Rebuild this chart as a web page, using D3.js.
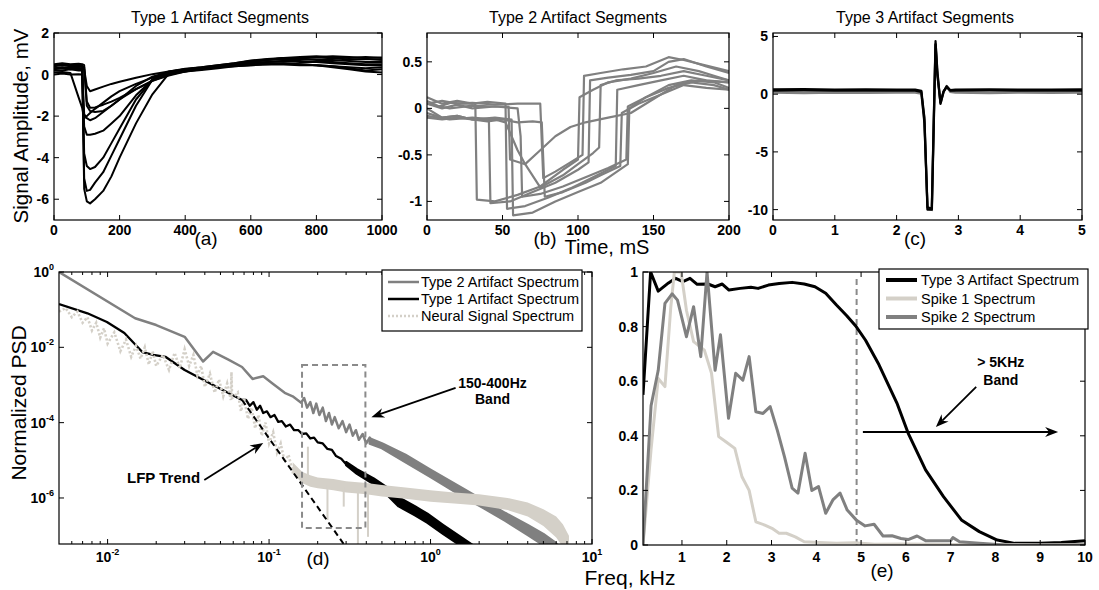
<!DOCTYPE html>
<html>
<head>
<meta charset="utf-8">
<title>Artifact segments and spectra</title>
<script src="https://cdn.jsdelivr.net/npm/d3@7/dist/d3.min.js"></script>
<style>
  html, body { margin: 0; padding: 0; background: #fff; }
  svg { display: block; }
  text { font-family: "Liberation Sans", Arial, Helvetica, sans-serif; fill: #000; }
</style>
</head>
<body>
<svg id="fig" width="1099" height="590"></svg>
<script>
// ---------------- (a) Type 1 artifact segments (ms, mV) ----------------
const type1Times = [0,25,50,75,86,92,100,110,125,150,175,200,250,300,350,400,450,500,550,600,650,700,750,800,850,900,950,1000];
const type1Seg1 = [0.30,0.35,0.30,0.32,0.30,0.25,-0.55,-0.80,-0.72,-0.58,-0.45,-0.35,-0.15,0.02,0.15,0.28,0.35,0.45,0.55,0.68,0.75,0.80,0.78,0.82,0.78,0.72,0.75,0.70];
const type1Seg2 = [0.50,0.55,0.50,0.52,0.50,0.45,-1.30,-1.60,-1.58,-1.45,-1.30,-1.12,-0.70,-0.30,-0.05,0.15,0.30,0.40,0.50,0.62,0.70,0.80,0.85,0.88,0.82,0.80,0.84,0.80];
const type1Seg3 = [0.10,0.12,0.08,-1.10,-1.60,-2.10,-2.00,-1.85,-1.65,-1.35,-1.05,-0.80,-0.45,-0.15,0.05,0.20,0.30,0.35,0.40,0.45,0.50,0.48,0.45,0.45,0.40,0.35,0.30,0.35];
const type1Seg4 = [0.40,0.45,0.40,0.42,0.40,0.35,-1.50,-1.75,-1.80,-1.75,-1.50,-1.20,-0.70,-0.30,0.00,0.15,0.25,0.35,0.45,0.55,0.60,0.65,0.65,0.60,0.60,0.55,0.50,0.50];
const type1Seg5 = [0.00,0.05,0.00,0.02,0.00,-2.50,-2.90,-2.90,-2.85,-2.70,-2.35,-2.00,-1.00,-0.25,0.08,0.15,0.22,0.30,0.40,0.45,0.50,0.55,0.50,0.45,0.35,0.25,0.15,0.10];
const type1Seg6 = [0.25,0.30,0.25,0.28,0.25,-1.90,-2.10,-2.20,-2.10,-1.80,-1.50,-1.20,-0.55,-0.10,0.12,0.25,0.35,0.45,0.55,0.65,0.72,0.78,0.80,0.85,0.88,0.85,0.80,0.82];
const type1Seg7 = [0.30,0.30,0.35,0.30,0.30,-3.80,-4.40,-4.55,-4.45,-4.00,-3.30,-2.60,-1.20,-0.25,0.10,0.20,0.25,0.35,0.45,0.55,0.60,0.65,0.60,0.60,0.55,0.50,0.45,0.45];
const type1Seg8 = [0.20,0.20,0.25,0.20,0.20,-5.00,-5.60,-5.55,-5.20,-4.70,-3.90,-3.10,-1.50,-0.25,0.15,0.25,0.30,0.35,0.45,0.50,0.55,0.55,0.50,0.45,0.40,0.30,0.20,0.25];
const type1Seg9 = [0.45,0.50,0.45,0.48,0.45,-5.50,-6.10,-6.20,-6.00,-5.60,-4.90,-4.00,-2.35,-0.95,0.05,0.20,0.30,0.40,0.50,0.60,0.70,0.75,0.75,0.70,0.70,0.65,0.60,0.60];
const type1Segments = [type1Seg1,type1Seg2,type1Seg3,type1Seg4,type1Seg5,type1Seg6,type1Seg7,type1Seg8,type1Seg9];
const type1XTicks = [0,200,400,600,800,1000];
const type1YTicks = [-6,-4,-2,0,2];

// ---------------- (b) Type 2 artifact segments (ms, mV) ----------------
const type2SegT1 = [0,8,16,24,32,33,45,60,75,90,100,101,110,120,135,150,165,180,190,200];
const type2SegV1 = [0.08,0.02,0.06,0.05,0.05,-0.98,-1.00,-0.93,-0.84,-0.66,-0.55,0.12,0.20,0.28,0.32,0.38,0.45,0.40,0.35,0.30];
const type2SegT2 = [0,10,20,30,41,42,55,70,85,100,107,108,120,135,150,160,170,185,200];
const type2SegV2 = [0.00,-0.10,-0.08,-0.12,-0.13,-1.02,-1.00,-0.90,-0.80,-0.66,-0.58,0.30,0.33,0.36,0.40,0.50,0.53,0.45,0.38];
const type2SegT3 = [0,10,20,30,40,52,53,65,80,95,110,125,126,140,155,170,185,200];
const type2SegV3 = [0.12,0.05,0.08,0.05,0.07,0.05,-1.08,-1.05,-0.96,-0.86,-0.74,-0.62,0.20,0.25,0.30,0.35,0.30,0.28];
const type2SegT4 = [0,10,20,30,45,56,57,70,85,100,115,133,134,145,160,175,190,200];
const type2SegV4 = [-0.05,-0.10,-0.08,-0.12,-0.10,-0.12,-1.15,-1.12,-1.00,-0.90,-0.80,-0.60,0.00,0.12,0.22,0.28,0.25,0.20];
const type2SegT5 = [0,10,20,30,45,60,62,63,75,90,105,120,132,133,145,160,175,190,200];
const type2SegV5 = [0.05,0.00,0.04,0.00,0.02,0.00,-0.30,-0.95,-0.92,-0.84,-0.74,-0.64,-0.55,0.02,0.12,0.25,0.30,0.28,0.22];
const type2SegT6 = [0,10,20,30,45,60,75,77,85,95,103,104,115,130,145,160,170,185,200];
const type2SegV6 = [0.05,0.08,0.05,0.06,0.04,0.05,0.05,-0.75,-0.68,-0.58,-0.50,0.35,0.38,0.42,0.45,0.55,0.52,0.46,0.40];
const type2SegT7 = [0,15,30,45,52,56,60,65,75,90,100,110,114,115,125,140,155,170,185,200];
const type2SegV7 = [-0.08,-0.12,-0.10,-0.12,-0.15,-0.30,-0.45,-0.60,-0.85,-0.72,-0.60,-0.48,-0.42,0.25,0.30,0.32,0.35,0.40,0.35,0.30];
const type2SegT8 = [0,10,20,30,40,50,60,70,76,78,90,105,115,128,129,140,155,170,185,200];
const type2SegV8 = [-0.10,-0.12,-0.10,-0.12,-0.14,-0.12,-0.15,-0.14,-0.15,-0.95,-0.90,-0.80,-0.72,-0.62,-0.05,0.05,0.15,0.25,0.22,0.20];
const type2SegT9 = [0,15,30,45,54,55,65,75,85,95,105,120,135,150,165,180,200];
const type2SegV9 = [0.05,0.00,0.03,0.02,0.02,-0.55,-0.60,-0.45,-0.30,-0.20,-0.15,-0.10,-0.05,0.10,0.25,0.30,0.28];
const type2Times = [type2SegT1,type2SegT2,type2SegT3,type2SegT4,type2SegT5,type2SegT6,type2SegT7,type2SegT8,type2SegT9];
const type2Values = [type2SegV1,type2SegV2,type2SegV3,type2SegV4,type2SegV5,type2SegV6,type2SegV7,type2SegV8,type2SegV9];
const type2XTicks = [0,50,100,150,200];
const type2YTicks = [-1,-0.5,0,0.5];

// ---------------- (c) Type 3 artifact segments (ms, mV) ----------------
const type3Times = [0,0.5,1.0,1.5,2.0,2.3,2.4,2.45,2.5,2.57,2.6,2.63,2.66,2.71,2.76,2.81,2.87,2.95,3.5,4.0,4.5,5.0];
const type3SegGray  = [0.15,0.10,0.15,0.12,0.15,0.15,0.05,-2.2,-9.9,-10.0,-2.8,4.4,1.8,-0.8,0.2,0.65,0.2,0.15,0.10,0.15,0.12,0.15];
const type3SegBlack1 = [0.30,0.32,0.30,0.30,0.30,0.30,0.20,-2.5,-9.8,-9.9,-2.5,4.3,1.6,-0.7,0.25,0.6,0.3,0.30,0.32,0.30,0.30,0.30];
const type3SegBlack2 = [0.42,0.45,0.40,0.42,0.40,0.40,0.30,-2.0,-10.0,-10.0,-3.0,4.6,2.0,-0.85,0.2,0.7,0.35,0.40,0.42,0.40,0.40,0.42];
const type3XTicks = [0,1,2,3,4,5];
const type3YTicks = [-10,-5,0,5];

// ---------------- (d) normalized PSD, log-log (kHz) ----------------
const t2SpecF = [0.005,0.0148,0.020,0.030,0.039,0.045,0.056,0.068,0.079,0.092,0.105,0.125,0.14,0.158,0.165,0.172,0.18,0.188,0.196,0.205,0.215,0.225,0.235,0.245,0.255,0.27,0.285,0.30,0.315,0.33,0.345,0.36,0.38,0.40,0.42,0.45];
const t2SpecP = [1,0.059,0.039,0.019,0.0042,0.0076,0.0047,0.0030,0.00145,0.0017,0.0011,6.2e-4,5.0e-4,3.4e-4,4.5e-4,2.5e-4,3.5e-4,1.8e-4,3.2e-4,1.6e-4,2.5e-4,1.1e-4,1.8e-4,8.9e-5,1.4e-4,7.1e-5,1.1e-4,5.6e-5,8.9e-5,4.5e-5,6.3e-5,3.5e-5,5.0e-5,2.8e-5,4.0e-5,2.5e-5];
const t2BandF  = [0.42,0.5,0.7,1.0,1.58,2.2,2.9,4.0,5.0,5.8,6.5];
const t2BandHi = [3.8e-5,2.8e-5,1.4e-5,5.6e-6,1.8e-6,7.9e-7,4.0e-7,1.9e-7,1.1e-7,7.0e-8,4.5e-8];
const t2BandLo = [2.8e-5,2.1e-5,8.9e-6,3.6e-6,1.1e-6,5.0e-7,2.5e-7,1.05e-7,5.6e-8,3.5e-8,2.2e-8];

const t1SpecF = [0.005,0.0075,0.0099,0.0127,0.0164,0.0192,0.0228,0.030,0.045,0.068,0.072,0.076,0.08,0.084,0.088,0.092,0.097,0.102,0.108,0.114,0.12,0.127,0.135,0.143,0.152,0.16,0.17,0.18,0.19,0.2,0.215,0.23,0.245,0.26,0.28,0.30];
const t1SpecP = [0.14,0.08,0.047,0.024,0.0075,0.0063,0.0056,0.0025,0.001,4.0e-4,4.0e-4,2.8e-4,3.5e-4,2.2e-4,2.8e-4,1.8e-4,2.0e-4,1.4e-4,1.6e-4,1.05e-4,1.1e-4,7.9e-5,8.9e-5,6.3e-5,6.3e-5,5.0e-5,5.2e-5,3.8e-5,4.0e-5,3.0e-5,2.8e-5,2.0e-5,1.9e-5,1.3e-5,1.1e-5,7.9e-6];
const t1BandF  = [0.30,0.35,0.445,0.55,0.634,0.8,0.957,1.2,1.58,1.9];
const t1BandHi = [9.0e-6,5.8e-6,3.3e-6,1.8e-6,1.05e-6,6.0e-7,3.8e-7,1.9e-7,8.5e-8,5.0e-8];
const t1BandLo = [7.5e-6,4.4e-6,2.3e-6,1.1e-6,6.0e-7,3.5e-7,2.2e-7,1.1e-7,5.0e-8,2.8e-8];

const neuralLowF = [0.005,0.0055,0.006,0.0065,0.007,0.0075,0.008,0.0085,0.009,0.0095,0.010,0.011,0.012,0.013,0.014,0.015,0.016,0.017,0.018,0.019,0.020,0.022,0.024,0.026,0.028,0.030,0.032,0.034,0.036,0.038,0.040,0.043,0.046,0.049,0.052,0.055,0.058,0.0585,0.059,0.061,0.064,0.067,0.070,0.074,0.078,0.082,0.086,0.090,0.095,0.100,0.106,0.112,0.118,0.125,0.132,0.140,0.150];
const neuralLowP = [8.9e-2,1.1e-1,6.3e-2,8.9e-2,4.5e-2,6.3e-2,2.8e-2,4.5e-2,1.8e-2,3.2e-2,1.26e-2,2.5e-2,7.9e-3,1.6e-2,5.6e-3,1.1e-2,5.0e-3,1.0e-2,3.5e-3,7.9e-3,3.2e-3,6.3e-3,2.5e-3,7.1e-3,2.8e-3,8.9e-3,3.2e-3,6.3e-3,1.8e-3,3.2e-3,8.9e-4,2.0e-3,6.3e-4,1.4e-3,5.0e-4,1.1e-3,4.0e-4,2.2e-3,4.5e-4,5.0e-4,6.3e-4,2.0e-4,4.5e-4,1.26e-4,2.5e-4,7.1e-5,1.6e-4,4.5e-5,1.0e-4,2.8e-5,5.6e-5,1.6e-5,2.8e-5,8.9e-6,1.4e-5,5.0e-6,6.3e-6];
const neuralBandF  = [0.14,0.16,0.18,0.2,0.25,0.3,0.4,0.5,0.7,1.0,1.4,2.0,3.0,4.0,5.0,6.0,6.6,7.2];
const neuralBandHi = [8.9e-6,5.0e-6,4.0e-6,3.5e-6,3.2e-6,2.8e-6,2.5e-6,2.2e-6,1.9e-6,1.6e-6,1.4e-6,1.26e-6,1.0e-6,7.6e-7,5.0e-7,3.2e-7,2.0e-7,1.0e-7];
const neuralBandLo = [4.5e-6,2.5e-6,2.0e-6,1.8e-6,1.6e-6,1.4e-6,1.26e-6,1.1e-6,9.5e-7,7.9e-7,7.1e-7,6.3e-7,4.8e-7,3.2e-7,1.8e-7,8.9e-8,5.0e-8,3.2e-8];
const neuralSpikeF    = [0.174,0.23,0.29,0.355,0.41];
const neuralSpikeBase = [3.0e-6,2.2e-6,2.0e-6,1.8e-6,1.7e-6];
const neuralSpikeTip  = [2.3e-5,2.6e-7,5.9e-7,6.0e-8,9.3e-8];

const lfpTrendF = [0.068,0.29];
const lfpTrendP = [4.0e-4,6.0e-8];
const bandBoxF = [0.16,0.395];
const bandBoxP = [1.6e-7,3.4e-3];

const psdXMajor = [0.01,0.1,1,10];
const psdXLabels = ["-2","-1","0","1"];
const psdYMajor = [1e-6,1e-4,1e-2,1];
const psdYLabels = ["-6","-4","-2","0"];

// ---------------- (e) normalized spectra, linear (kHz) ----------------
const t3SpecF = [0.13,0.3,0.47,0.7,0.86,1.02,1.18,1.34,1.58,1.74,1.9,2.05,2.3,2.54,2.7,2.93,3.17,3.46,3.73,3.97,4.21,4.45,4.68,4.89,5.1,5.4,5.8,6.05,6.44,6.84,7.24,7.64,8.04,8.43,9.0,9.47,10.0];
const t3SpecV = [0.55,1.0,0.93,0.96,0.977,0.965,0.977,0.955,0.956,0.946,0.956,0.934,0.94,0.944,0.94,0.952,0.958,0.962,0.956,0.946,0.922,0.879,0.84,0.80,0.75,0.66,0.52,0.41,0.275,0.177,0.092,0.049,0.018,0.006,0.006,0.009,0.016];
const spike1F = [0.13,0.31,0.47,0.62,0.75,0.83,0.98,1.1,1.26,1.5,1.66,1.82,1.98,2.18,2.34,2.5,2.65,2.85,3.01,3.17,3.33,3.53,3.73,4.05,4.45,4.85,5.3,6.0,7.0,8.0,9.0,10.0];
const spike1V = [0.0,0.35,0.61,0.58,0.87,1.0,1.0,0.86,0.745,0.714,0.629,0.397,0.378,0.354,0.25,0.2,0.085,0.073,0.061,0.043,0.043,0.03,0.012,0.009,0.006,0.008,0.003,0.004,0.002,0.002,0.001,0.002];
const spike2F = [0.13,0.31,0.47,0.62,0.78,0.9,1.1,1.26,1.42,1.56,1.74,1.86,2.04,2.2,2.36,2.5,2.65,2.81,2.97,3.13,3.29,3.46,3.59,3.75,3.9,4.05,4.21,4.37,4.53,4.69,4.89,5.09,5.29,5.49,5.69,5.89,6.05,6.25,6.44,7.0,7.05,7.2,7.64,8.2,9.0,10.0];
const spike2V = [0.0,0.51,0.64,0.885,0.92,0.897,0.763,0.873,0.69,1.0,0.64,0.77,0.464,0.629,0.604,0.69,0.488,0.482,0.507,0.42,0.323,0.208,0.19,0.336,0.2,0.214,0.116,0.165,0.19,0.128,0.092,0.07,0.076,0.033,0.034,0.024,0.02,0.033,0.016,0.016,0.027,0.012,0.006,0.0,0.0,0.0];
const bandEdgeF = 4.9;
const specXTicks = [1,2,3,4,5,6,7,8,9,10];
const specYTicks = [0,0.2,0.4,0.6,0.8,1];

// ---------------- drawing ----------------
const BLACK = "#000", MID = "#808080", LIGHT = "#d4d0c8", DASHGRAY = "#8a8a8a";
const svg = d3.select("#fig");
const defs = svg.append("defs");

const xA = d3.scaleLinear().domain([0,1000]).range([54,382]);
const yA = d3.scaleLinear().domain([-7,2]).range([220,33]);
const xB = d3.scaleLinear().domain([0,200]).range([427,729]);
const yB = d3.scaleLinear().domain([-1.2,0.81]).range([220,33]);
const xC = d3.scaleLinear().domain([0,5]).range([773,1082]);
const yC = d3.scaleLinear().domain([-10.9,5.3]).range([220,33]);
const xD = d3.scaleLog().domain([0.005,10]).range([59,592]);
const yD = d3.scaleLog().domain([6e-8,1]).range([544,272]);
const xE = d3.scaleLinear().domain([0.13,10]).range([643,1085]);
const yE = d3.scaleLinear().domain([0,1]).range([545,272]);

function makePanel(id, x, y) {
  const [x0, x1] = x.range(), [y1, y0] = y.range();
  defs.append("clipPath").attr("id", id).append("rect")
    .attr("x", x0).attr("y", y0).attr("width", x1 - x0).attr("height", y1 - y0);
  const g = svg.append("g");
  const plot = g.append("g").attr("clip-path", `url(#${id})`);
  return { g, plot };
}

function frame(g, x, y, o) {
  const [x0, x1] = x.range(), [y1, y0] = y.range();
  const L = o.len || 5;
  const tick = (a, b, c, d) => g.append("line").attr("x1", a).attr("y1", b).attr("x2", c).attr("y2", d)
    .attr("stroke", BLACK).attr("stroke-width", 1);
  o.xTicks.forEach(t => { const p = x(t); tick(p, y1, p, y1 - L); tick(p, y0, p, y0 + L); });
  (o.xMinor || []).forEach(t => { const p = x(t); tick(p, y1, p, y1 - 3); tick(p, y0, p, y0 + 3); });
  o.yTicks.forEach(t => { const p = y(t); tick(x0, p, x0 + L, p); tick(x1, p, x1 - L, p); });
  g.append("rect").attr("x", x0).attr("y", y0).attr("width", x1 - x0).attr("height", y1 - y0)
    .attr("fill", "none").attr("stroke", BLACK).attr("stroke-width", 1.2);
  o.xTicks.forEach((t, i) => {
    const s = g.append("text").attr("x", x(t)).attr("y", y1 + o.xOff)
      .attr("text-anchor", "middle").attr("font-size", 14).attr("font-weight", "bold");
    o.xFmt(s, t, i);
  });
  o.yTicks.forEach((t, i) => {
    const s = g.append("text").attr("x", x0 - 5).attr("y", y(t) + 5)
      .attr("text-anchor", "end").attr("font-size", 14).attr("font-weight", "bold");
    o.yFmt(s, t, i);
  });
}
const plain = (s, t) => s.text(String(t));
const pow10 = labels => (s, t, i) => {
  s.append("tspan").text("10");
  s.append("tspan").attr("dy", -7).attr("font-size", 9).text(labels[i]);
};

function addText(txt, x, y, size, opts = {}) {
  const t = svg.append("text").attr("x", x).attr("y", y).attr("font-size", size)
    .attr("text-anchor", opts.anchor || "middle").attr("font-weight", opts.bold ? "bold" : "normal").text(txt);
  if (opts.rotate) t.attr("transform", `rotate(-90,${x},${y})`);
  return t;
}

function arrow(g, xa, ya, xb, yb) {
  const ang = Math.atan2(yb - ya, xb - xa), hl = 13, hw = 5, nb = 9;
  const ux = Math.cos(ang), uy = Math.sin(ang), nx = -uy, ny = ux;
  g.append("line").attr("x1", xa).attr("y1", ya).attr("x2", xb - ux * nb).attr("y2", yb - uy * nb)
    .attr("stroke", BLACK).attr("stroke-width", 1.8);
  const pts = [[xb, yb], [xb - ux * hl + nx * hw, yb - uy * hl + ny * hw], [xb - ux * nb, yb - uy * nb],
               [xb - ux * hl - nx * hw, yb - uy * hl - ny * hw]];
  g.append("path").attr("d", "M" + pts.map(p => p.join(",")).join("L") + "Z").attr("fill", BLACK);
}

// ----- panel (a)
{
  const { g, plot } = makePanel("clipA", xA, yA);
  const line = d3.line().x(d => xA(d[0])).y(d => yA(d[1]));
  type1Segments.forEach(v => plot.append("path").datum(d3.zip(type1Times, v)).attr("d", line)
    .attr("fill", "none").attr("stroke", BLACK).attr("stroke-width", 2).attr("stroke-linejoin", "round"));
  frame(g, xA, yA, { xTicks: type1XTicks, yTicks: type1YTicks, xOff: 15, xFmt: plain, yFmt: plain });
}
// ----- panel (b)
{
  const { g, plot } = makePanel("clipB", xB, yB);
  const line = d3.line().x(d => xB(d[0])).y(d => yB(d[1]));
  type2Values.forEach((v, i) => plot.append("path").datum(d3.zip(type2Times[i], v)).attr("d", line)
    .attr("fill", "none").attr("stroke", MID).attr("stroke-width", 2.2).attr("stroke-linejoin", "round"));
  frame(g, xB, yB, { xTicks: type2XTicks, yTicks: type2YTicks, xOff: 15, xFmt: plain, yFmt: plain });
}
// ----- panel (c)
{
  const { g, plot } = makePanel("clipC", xC, yC);
  const line = d3.line().x(d => xC(d[0])).y(d => yC(d[1]));
  plot.append("path").datum(d3.zip(type3Times, type3SegGray)).attr("d", line)
    .attr("fill", "none").attr("stroke", MID).attr("stroke-width", 2.4);
  [type3SegBlack1, type3SegBlack2].forEach(v => plot.append("path").datum(d3.zip(type3Times, v)).attr("d", line)
    .attr("fill", "none").attr("stroke", BLACK).attr("stroke-width", 2.2).attr("stroke-linejoin", "round"));
  frame(g, xC, yC, { xTicks: type3XTicks, yTicks: type3YTicks, xOff: 15, xFmt: plain, yFmt: plain });
}
// ----- panel (d)
{
  const { g, plot } = makePanel("clipD", xD, yD);
  const line = d3.line().x(d => xD(d[0])).y(d => yD(d[1]));
  const band = d3.area().x(d => xD(d[0])).y0(d => yD(d[1])).y1(d => yD(d[2]));

  plot.append("path").datum(d3.zip(t2BandF, t2BandLo, t2BandHi)).attr("d", band)
    .attr("fill", MID).attr("stroke", MID).attr("stroke-width", 2.5).attr("stroke-linejoin", "round");
  plot.append("path").datum(d3.zip(t2SpecF, t2SpecP)).attr("d", line)
    .attr("fill", "none").attr("stroke", MID).attr("stroke-width", 2.5).attr("stroke-linejoin", "round");

  plot.append("path").datum(d3.zip(t1BandF, t1BandLo, t1BandHi)).attr("d", band)
    .attr("fill", BLACK).attr("stroke", BLACK).attr("stroke-width", 2.3).attr("stroke-linejoin", "round");
  plot.append("path").datum(d3.zip(t1SpecF, t1SpecP)).attr("d", line)
    .attr("fill", "none").attr("stroke", BLACK).attr("stroke-width", 2.3).attr("stroke-linejoin", "round");

  plot.append("path").datum(d3.zip(neuralLowF, neuralLowP)).attr("d", line)
    .attr("fill", "none").attr("stroke", LIGHT).attr("stroke-width", 2.6).attr("stroke-dasharray", "2.2,2");
  plot.append("path").datum(d3.zip(neuralBandF, neuralBandLo, neuralBandHi)).attr("d", band).attr("fill", LIGHT);
  neuralSpikeF.forEach((f, i) => plot.append("line")
    .attr("x1", xD(f)).attr("x2", xD(f)).attr("y1", yD(neuralSpikeBase[i])).attr("y2", yD(neuralSpikeTip[i]))
    .attr("stroke", LIGHT).attr("stroke-width", 2));

  plot.append("path").datum(d3.zip(lfpTrendF, lfpTrendP)).attr("d", line)
    .attr("fill", "none").attr("stroke", BLACK).attr("stroke-width", 2).attr("stroke-dasharray", "6,4");
  g.append("rect").attr("x", xD(bandBoxF[0])).attr("y", yD(bandBoxP[1]))
    .attr("width", xD(bandBoxF[1]) - xD(bandBoxF[0])).attr("height", yD(bandBoxP[0]) - yD(bandBoxP[1]))
    .attr("fill", "none").attr("stroke", DASHGRAY).attr("stroke-width", 2).attr("stroke-dasharray", "6,4");

  const minor = [];
  [0.001, 0.01, 0.1, 1].forEach(b => d3.range(2, 10).forEach(k => {
    const v = +(b * k).toPrecision(3); if (v > 0.005 && v < 10) minor.push(v);
  }));
  frame(g, xD, yD, { xTicks: psdXMajor, xMinor: minor, yTicks: psdYMajor, xOff: 18,
    xFmt: pow10(psdXLabels), yFmt: pow10(psdYLabels) });

  // annotations
  arrow(g, xD(1.43), yD(8.4e-4), xD(0.43), yD(1.4e-4));
  g.append("text").attr("x", xD(2.42)).attr("y", yD(8.3e-4)).attr("text-anchor", "middle")
    .attr("font-size", 14).attr("font-weight", "bold").text("150-400Hz");
  g.append("text").attr("x", xD(2.42)).attr("y", yD(3.2e-4)).attr("text-anchor", "middle")
    .attr("font-size", 14).attr("font-weight", "bold").text("Band");
  arrow(g, xD(0.0397), yD(3.0e-6), xD(0.092), yD(2.9e-5));
  g.append("text").attr("x", xD(0.0222)).attr("y", yD(2.5e-6)).attr("text-anchor", "middle")
    .attr("font-size", 15).attr("font-weight", "bold").text("LFP Trend");

  // legend
  const lg = g.append("g");
  lg.append("rect").attr("x", 382).attr("y", 270).attr("width", 200).attr("height", 61)
    .attr("fill", "#fff").attr("stroke", BLACK).attr("stroke-width", 1.2);
  const rows = [["Type 2 Artifact Spectrum", MID, null], ["Type 1 Artifact Spectrum", BLACK, null],
                ["Neural Signal Spectrum", LIGHT, "2,2"]];
  rows.forEach((r, i) => {
    const yy = 287 + i * 17;
    lg.append("line").attr("x1", 388).attr("x2", 419).attr("y1", yy - 5).attr("y2", yy - 5)
      .attr("stroke", r[1]).attr("stroke-width", 2.5).attr("stroke-dasharray", r[2]);
    lg.append("text").attr("x", 421).attr("y", yy).attr("font-size", 14.5).text(r[0]);
  });
}
// ----- panel (e)
{
  const { g, plot } = makePanel("clipE", xE, yE);
  const line = d3.line().x(d => xE(d[0])).y(d => yE(d[1]));
  plot.append("line").attr("x1", xE(bandEdgeF)).attr("x2", xE(bandEdgeF)).attr("y1", yE(0)).attr("y2", yE(0.98))
    .attr("stroke", DASHGRAY).attr("stroke-width", 2).attr("stroke-dasharray", "6,4");
  [[t3SpecF, t3SpecV, BLACK], [spike1F, spike1V, LIGHT], [spike2F, spike2V, MID]].forEach(s =>
    plot.append("path").datum(d3.zip(s[0], s[1])).attr("d", line)
      .attr("fill", "none").attr("stroke", s[2]).attr("stroke-width", 3).attr("stroke-linejoin", "round"));
  frame(g, xE, yE, { xTicks: specXTicks, yTicks: specYTicks, xOff: 17, xFmt: plain, yFmt: plain });

  arrow(g, xE(5.04), yE(0.414), xE(9.4), yE(0.414));
  arrow(g, xE(7.57), yE(0.579), xE(6.67), yE(0.432));
  g.append("text").attr("x", xE(8.12)).attr("y", yE(0.652)).attr("text-anchor", "middle")
    .attr("font-size", 14).attr("font-weight", "bold").text("> 5KHz");
  g.append("text").attr("x", xE(8.12)).attr("y", yE(0.586)).attr("text-anchor", "middle")
    .attr("font-size", 14).attr("font-weight", "bold").text("Band");

  const lg = g.append("g");
  lg.append("rect").attr("x", 879).attr("y", 269).attr("width", 209).attr("height", 60)
    .attr("fill", "#fff").attr("stroke", BLACK).attr("stroke-width", 1.2);
  const rows = [["Type 3 Artifact Spectrum", BLACK], ["Spike 1 Spectrum", LIGHT], ["Spike 2 Spectrum", MID]];
  rows.forEach((r, i) => {
    const yy = 285 + i * 18.5;
    lg.append("line").attr("x1", 886).attr("x2", 917).attr("y1", yy - 5).attr("y2", yy - 5)
      .attr("stroke", r[1]).attr("stroke-width", 4);
    lg.append("text").attr("x", 921).attr("y", yy).attr("font-size", 14.5).text(r[0]);
  });
}

// ----- titles, axis labels, panel letters
addText("Type 1 Artifact Segments", 220, 23, 16);
addText("Type 2 Artifact Segments", 578, 23, 16);
addText("Type 3 Artifact Segments", 925, 23, 16);
addText("Signal Amplitude, mV", 28, 126, 20.5, { rotate: true });
addText("Time, mS", 607, 254, 20);
addText("(a)", 206, 245, 19);
addText("(b)", 545, 245, 19);
addText("(c)", 915, 245, 19);
addText("Normalized PSD", 26, 403, 21, { rotate: true });
addText("Freq, kHz", 630, 585, 21);
addText("(d)", 318, 565, 19);
addText("(e)", 882, 577, 19);
</script>
</body>
</html>
